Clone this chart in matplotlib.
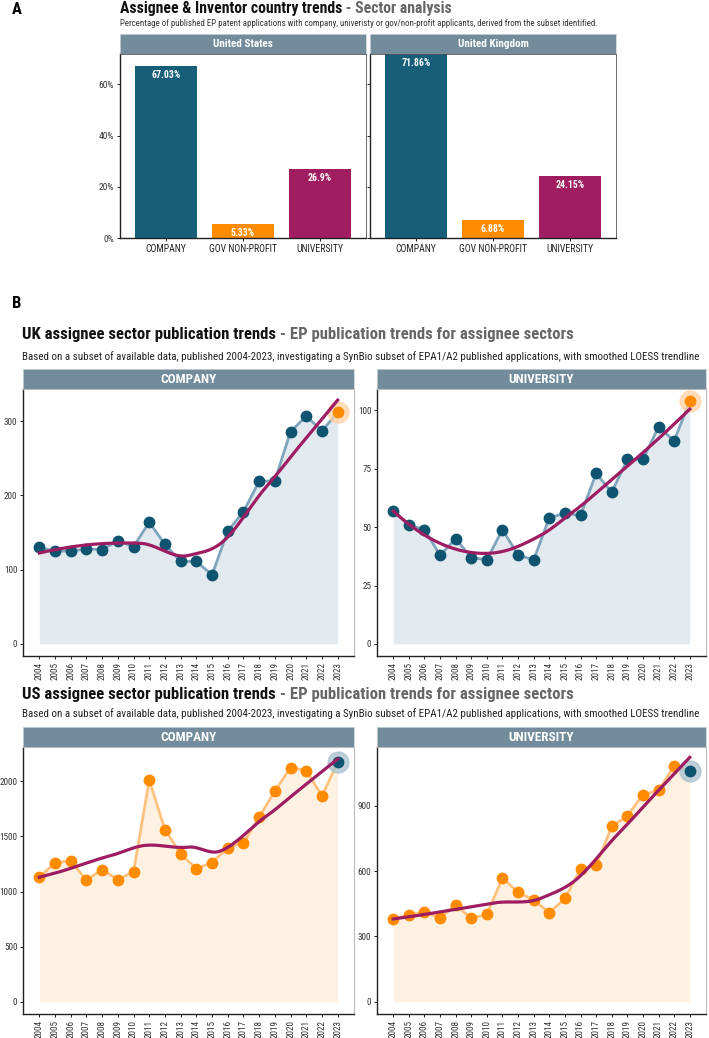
import numpy as np
import matplotlib
matplotlib.use("Agg")
import matplotlib.pyplot as plt
from matplotlib import font_manager

# ---- data ----
sectors = ["COMPANY", "GOV NON-PROFIT", "UNIVERSITY"]
us_share = [67.03, 5.33, 26.9]
uk_share = [71.86, 6.88, 24.15]
share_labels_us = ["67.03%", "5.33%", "26.9%"]
share_labels_uk = ["71.86%", "6.88%", "24.15%"]

years = list(range(2004, 2024))
uk_company = [130, 125, 125, 128, 127, 139, 131, 164, 134, 111,
              111, 93, 152, 178, 219, 220, 286, 307, 287, 312]
uk_university = [57, 51, 49, 38, 45, 37, 36, 49, 38, 36,
                 54, 56, 55, 73, 65, 79, 79, 93, 87, 104]
us_company = [1130, 1260, 1278, 1103, 1199, 1109, 1178, 2009, 1562, 1341,
              1208, 1263, 1399, 1441, 1674, 1912, 2124, 2097, 1867, 2172]
us_university = [380, 400, 411, 386, 445, 383, 403, 569, 502, 468,
                 409, 475, 608, 626, 805, 854, 951, 971, 1083, 1062]

# ---- fonts ----
names = {f.name for f in font_manager.fontManager.ttflist}
fam = None
for cand in ["Roboto Condensed", "Liberation Sans Narrow"]:
    if cand in names:
        fam = cand
        break
if fam is None:
    fam = "DejaVu Sans"
    plt.rcParams["font.stretch"] = "condensed"
plt.rcParams["font.family"] = [fam, "DejaVu Sans"]

W, H = 709, 1038
fig = plt.figure(figsize=(W / 100, H / 100), dpi=100)
fig.patch.set_facecolor("white")

STRIP = "#728C9B"
DARK = "#0E5470"
ORANGE = "#FF8C00"
MAGENTA = "#9E1C62"
BAR_COLS = ["#175F79", ORANGE, "#A11D62"]


def box(x0, y0, x1, y1):
    return fig.add_axes([x0 / W, 1 - y1 / H, (x1 - x0) / W, (y1 - y0) / H])


def strip(x0, y0, x1, y1, label, size):
    ax = box(x0, y0, x1, y1)
    ax.set_facecolor(STRIP)
    ax.set_xticks([])
    ax.set_yticks([])
    for s in ax.spines.values():
        s.set_color("#C9D3DA")
        s.set_linewidth(0.6)
    ax.text(0.5, 0.48, label, ha="center", va="center", color="white",
            fontsize=size, fontweight="bold", transform=ax.transAxes)


def two_part_title(x, y, first, second, size):
    t = fig.text(x / W, 1 - y / H, first, fontsize=size, fontweight="bold",
                 color="#111111", va="center")
    r = fig.canvas.get_renderer()
    bb = t.get_window_extent(r)
    fig.text(bb.x1 / W, 1 - y / H, second, fontsize=size, fontweight="bold",
             color="#666666", va="center")


# loess like R's default (span 0.75, degree 2, kd-tree + cubic interpolation)
def local_fit(x, y, x0, q):
    d = np.abs(x - x0)
    h = np.sort(d)[q - 1]
    w = np.clip(1 - (d / h) ** 3, 0, None) ** 3
    X = np.vstack([np.ones_like(x), x - x0, (x - x0) ** 2]).T
    A = X.T @ (X * w[:, None])
    b = X.T @ (w * y)
    beta = np.linalg.solve(A, b)
    return beta[0], beta[1]


def kd_cuts(xs, fc):
    if len(xs) <= fc:
        return []
    m = len(xs) // 2
    cut = (xs[m - 1] + xs[m]) / 2
    return kd_cuts(xs[:m], fc) + [cut] + kd_cuts(xs[m:], fc)


def loess(x, y, grid, span=0.75):
    x = np.asarray(x, float)
    y = np.asarray(y, float)
    n = len(x)
    q = int(np.floor(span * n))
    fc = int(np.floor(n * span * 0.2))
    mu = 0.005 * (x.max() - x.min())
    verts = [x.min() - mu] + kd_cuts(np.sort(x), fc) + [x.max() + mu]
    fits = [local_fit(x, y, v, q) for v in verts]
    out = []
    for g in grid:
        i = min(np.searchsorted(verts, g, side="right") - 1, len(verts) - 2)
        x0, x1 = verts[i], verts[i + 1]
        (f0, s0), (f1, s1) = fits[i], fits[i + 1]
        hh = x1 - x0
        t = (g - x0) / hh
        h00 = 2 * t ** 3 - 3 * t ** 2 + 1
        h10 = t ** 3 - 2 * t ** 2 + t
        h01 = -2 * t ** 3 + 3 * t ** 2
        h11 = t ** 3 - t ** 2
        out.append(h00 * f0 + h10 * hh * s0 + h01 * f1 + h11 * hh * s1)
    return np.array(out)


# ---- Panel A ----
fig.text(12 / W, 1 - 10 / H, "A", fontsize=12, fontweight="bold", va="center")
two_part_title(120, 9, "Assignee & Inventor country trends", " - Sector analysis", 11.3)
fig.text(120 / W, 1 - 23.5 / H,
         "Percentage of published EP patent applications with company, univeristy or gov/non-profit applicants, derived from the subset identified.",
         fontsize=6.4, color="#333333", va="center")

for (x0, x1), name, vals, labs in [((120, 366), "United States", us_share, share_labels_us),
                                   ((370, 616), "United Kingdom", uk_share, share_labels_uk)]:
    strip(x0, 34, x1, 54, name, 8)
    ax = box(x0, 54, x1, 238)
    xpos = np.arange(len(sectors))
    ax.bar(xpos, vals, width=0.8, color=BAR_COLS)
    for xi, v, lab in zip(xpos, vals, labs):
        ax.text(xi, v - 1.5, lab, ha="center", va="top", color="white",
                fontsize=7, fontweight="bold")
    ax.set_xlim(-0.6, 2.6)
    ax.set_ylim(0, 71.9)
    ax.set_xticks(xpos)
    ax.set_xticklabels(sectors, fontsize=7, color="#222222")
    ax.set_yticks([0, 20, 40, 60])
    if x0 == 120:
        ax.set_yticklabels(["0%", "20%", "40%", "60%"], fontsize=6.8, color="#333333")
    else:
        ax.set_yticklabels([])
        ax.tick_params(axis="y", length=0)
    ax.tick_params(length=2.5, width=0.6, pad=2)
    for s in ["top", "right"]:
        ax.spines[s].set_color("#555555")
        ax.spines[s].set_linewidth(0.6)
    for s in ["left", "bottom"]:
        ax.spines[s].set_color("#222222")
        ax.spines[s].set_linewidth(1.0)

# ---- Panel B ----
fig.text(12 / W, 1 - 304 / H, "B", fontsize=12, fontweight="bold", va="center")

SUB = ("Based on a subset of available data, published 2004-2023, investigating a SynBio "
       "subset of EPA1/A2 published applications, with smoothed LOESS trendline")


def trend_panel(x0, x1, y0, y1, vals, yticks, ylim, style, label):
    strip(x0, y0 - 20, x1, y0, label, 9.5)
    ax = box(x0, y0, x1, y1)
    if style == "uk":
        fill, line, pt, hl, halo = "#E3EAEF", "#7EA5BC", DARK, ORANGE, "#FFD2A6"
    else:
        fill, line, pt, hl, halo = "#FFF1E2", "#FFC27E", ORANGE, DARK, "#A7C1CD"
    ax.fill_between(years, 0, vals, color=fill, lw=0)
    ax.plot(years, vals, color=line, lw=2.0, zorder=2)
    ax.plot(years[:-1], vals[:-1], "o", color=pt, ms=7.5, zorder=3)
    ax.plot(years[-1], vals[-1], "o", color=halo, ms=15, alpha=0.75, zorder=3)
    ax.plot(years[-1], vals[-1], "o", color=hl, ms=7.5, zorder=4)
    xs = np.linspace(years[0], years[-1], 200)
    ax.plot(xs, loess(years, vals, xs), color=MAGENTA, lw=2.3, zorder=5)
    ax.set_xlim(years[0] - 1.04, years[-1] + 1.04)
    ax.set_ylim(*ylim)
    ax.set_xticks(years)
    ax.set_xticklabels([str(y) for y in years], rotation=90, fontsize=6.6, color="#333333")
    ax.set_yticks(yticks)
    ax.set_yticklabels([str(t) for t in yticks], fontsize=6.6, color="#333333")
    ax.tick_params(length=2.5, width=0.6, pad=1.5)
    for s in ["top", "right"]:
        ax.spines[s].set_color("#BBBBBB")
        ax.spines[s].set_linewidth(0.8)
    for s in ["left", "bottom"]:
        ax.spines[s].set_color("#222222")
        ax.spines[s].set_linewidth(1.0)
    return ax


two_part_title(22, 335, "UK assignee sector publication trends",
               " - EP publication trends for assignee sectors", 12.0)
fig.text(22 / W, 1 - 357 / H, SUB, fontsize=7.9, color="#222222", va="center")
trend_panel(23, 354, 389, 656, uk_company, [0, 100, 200, 300], (-16.4, 343.5), "uk", "COMPANY")
trend_panel(377, 706, 389, 656, uk_university, [0, 25, 50, 75, 100], (-5.2, 109.2), "uk", "UNIVERSITY")

two_part_title(22, 694, "US assignee sector publication trends",
               " - EP publication trends for assignee sectors", 12.0)
fig.text(22 / W, 1 - 714 / H, SUB, fontsize=7.9, color="#222222", va="center")
trend_panel(23, 354, 747, 1014, us_company, [0, 500, 1000, 1500, 2000], (-110, 2310), "us", "COMPANY")
trend_panel(377, 706, 747, 1014, us_university, [0, 300, 600, 900], (-56, 1170), "us", "UNIVERSITY")

fig.savefig("out.png", dpi=100, facecolor="white")
